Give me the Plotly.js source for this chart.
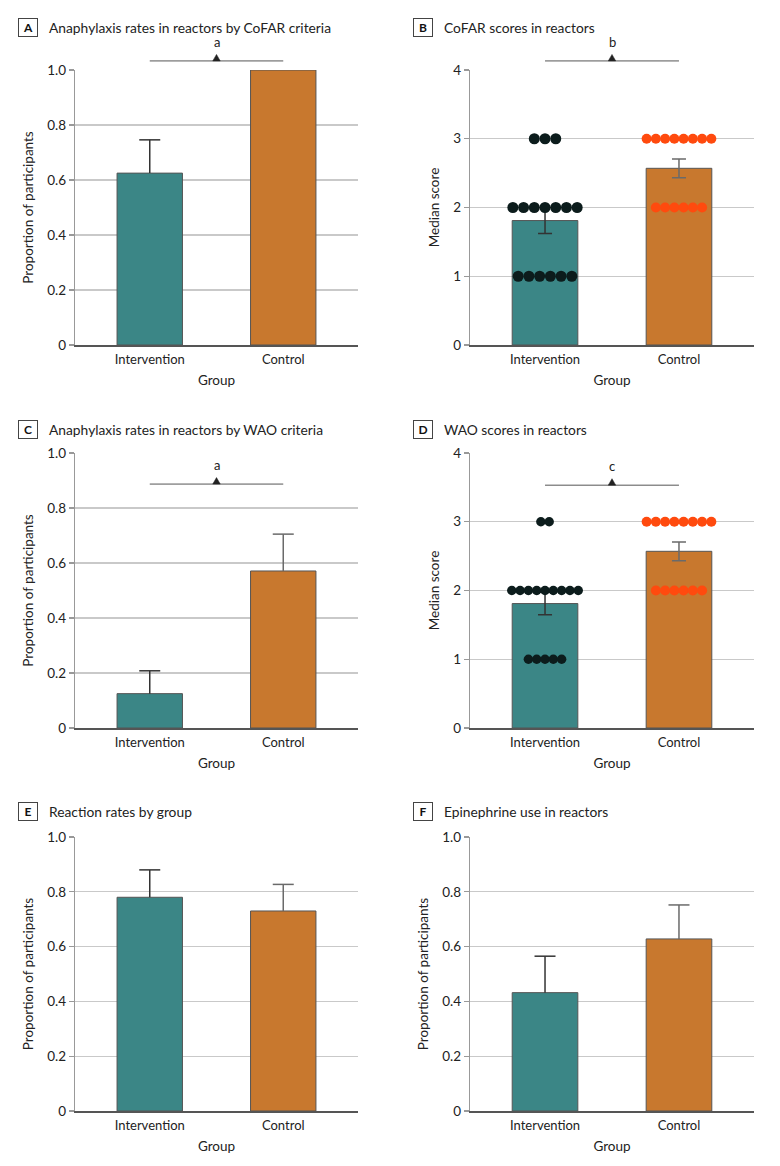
<!DOCTYPE html>
<html>
<head>
<meta charset="utf-8">
<script src="https://cdn.plot.ly/plotly-3.0.1.min.js"></script>
<style>
  html, body { margin: 0; padding: 0; background: #fff; }
  #chart { width: 780px; height: 1166px; }
</style>
</head>
<body>
<div id="chart"></div>
<script>
// ---- data ----
const groups = ['Intervention', 'Control'];
const propTickVals = [0, 0.2, 0.4, 0.6, 0.8, 1.0];
const propTickText = ['0', '0.2', '0.4', '0.6', '0.8', '1.0'];
const scoreTickVals = [0, 1, 2, 3, 4];
const scoreTickText = ['0', '1', '2', '3', '4'];

// A: anaphylaxis by CoFAR criteria (proportion, upper SE)
const cofarRate = [0.625, 1.0];
const cofarRateErr = [0.121, 0];
// B: CoFAR scores (bar value, SE) and individual scores
const cofarScore = [1.81, 2.57];
const cofarScoreErr = [0.19, 0.137];
const cofarIntervention = [3, 3, 3, 2, 2, 2, 2, 2, 2, 2, 1, 1, 1, 1, 1, 1];
const cofarControl = [3, 3, 3, 3, 3, 3, 3, 3, 2, 2, 2, 2, 2, 2];
// C: anaphylaxis by WAO criteria
const waoRate = [0.125, 0.571];
const waoRateErr = [0.083, 0.134];
// D: WAO scores
const waoScore = [1.81, 2.57];
const waoScoreErr = [0.164, 0.137];
const waoIntervention = [3, 3, 2, 2, 2, 2, 2, 2, 2, 2, 2, 1, 1, 1, 1, 1];
const waoControl = [3, 3, 3, 3, 3, 3, 3, 3, 2, 2, 2, 2, 2, 2];
// E: reaction rates by group
const reactionRate = [0.78, 0.73];
const reactionRateErr = [0.10, 0.097];
// F: epinephrine use in reactors
const epiRate = [0.432, 0.628];
const epiRateErr = [0.133, 0.124];

// ---- styling ----
const W = 780, H = 1166;
const FONT = 'Lato, "Open Sans", sans-serif';
const TEAL = '#3b8686';
const ORANGE = '#c8782e';
const DOT_DARK = '#0c1c1c';
const DOT_RED = '#ff4a0e';

// plot-area rectangles in pixels
const boxes = {
  A: [75, 358, 70, 345],
  B: [470, 754, 70, 345],
  C: [75, 358, 453, 728],
  D: [470, 754, 453, 728],
  E: [75, 358, 837, 1111],
  F: [470, 754, 837, 1111]
};
const titles = {
  A: 'Anaphylaxis rates in reactors by CoFAR criteria',
  B: 'CoFAR scores in reactors',
  C: 'Anaphylaxis rates in reactors by WAO criteria',
  D: 'WAO scores in reactors',
  E: 'Reaction rates by group',
  F: 'Epinephrine use in reactors'
};

const traces = [];
const layout = {
  width: W, height: H,
  margin: {l: 0, r: 0, t: 0, b: 0},
  paper_bgcolor: '#fff', plot_bgcolor: '#fff',
  showlegend: false,
  barmode: 'overlay',
  font: {family: FONT, size: 13, color: '#222'},
  shapes: [], annotations: []
};

function px2x(px) { return px / W; }
function px2y(py) { return 1 - py / H; }

function addPanel(idx, key, vals, errs, symmetric, yMax, yTitle, tickVals, tickText) {
  const [x0, x1, y0, y1] = boxes[key];
  const xa = 'xaxis' + idx, ya = 'yaxis' + idx;
  const xr = 'x' + idx, yr = 'y' + idx;
  layout[xa] = {
    domain: [px2x(x0), px2x(x1)], anchor: yr,
    range: [-0.56, 1.56], tickvals: [0, 1], ticktext: groups,
    showgrid: false, zeroline: false, showline: true,
    linecolor: '#555', linewidth: 1.5, ticks: '',
    tickfont: {family: FONT, size: 13, color: '#222'}, ticklabelstandoff: 2,
    title: {text: 'Group', font: {family: FONT, size: 13.5, color: '#222'}, standoff: 9},
    fixedrange: true
  };
  layout[ya] = {
    domain: [px2y(y1), px2y(y0)], anchor: xr,
    range: [0, yMax], tickvals: tickVals, ticktext: tickText,
    showgrid: true, gridcolor: '#c9c9c9', gridwidth: 1.3,
    zeroline: false, showline: true, linecolor: '#999', linewidth: 1.3,
    ticks: 'outside', ticklen: 5, tickcolor: '#999', tickwidth: 1.3,
    tickfont: {family: FONT, size: 13.5, color: '#222'},
    title: {text: yTitle, font: {family: FONT, size: 13.5, color: '#222'}, standoff: 10},
    fixedrange: true
  };
  const colors = [TEAL, ORANGE];
  const errColors = ['#333', '#6a6a6a'];
  for (let i = 0; i < groups.length; i++) {
    const show = errs[i] > 0;
    const e = symmetric
      ? {type: 'data', array: [errs[i]], symmetric: true, color: errColors[i], thickness: 1.5, width: 7, visible: show}
      : {type: 'data', array: [errs[i]], arrayminus: [0], symmetric: false, color: errColors[i], thickness: 1.5, width: 0, visible: show};
    traces.push({
      type: 'bar', x: [i], y: [vals[i]], width: 0.49,
      xaxis: xr, yaxis: yr,
      marker: {color: colors[i], line: {color: '#555', width: 1}},
      error_y: e, hoverinfo: 'skip'
    });
    // one-sided error bars get their cap only at the upper end
    if (!symmetric && show) {
      traces.push({
        type: 'scatter', mode: 'markers', x: [i], y: [vals[i] + errs[i]],
        xaxis: xr, yaxis: yr, cliponaxis: false, hoverinfo: 'skip',
        marker: {symbol: 'line-ew', size: 15, line: {color: errColors[i], width: 1.5}}
      });
    }
  }
  // panel letter box + title
  const ty = px2y(y0 - (key === 'A' || key === 'B' ? 42 : key === 'C' || key === 'D' ? 24 : 26));
  layout.annotations.push({
    xref: 'paper', yref: 'paper', x: px2x(x0 - 47), y: ty,
    xanchor: 'center', yanchor: 'middle', showarrow: false,
    text: '<b>' + key + '</b>', font: {family: FONT, size: 12, color: '#111'},
    bordercolor: '#444', borderwidth: 1, borderpad: 1, width: 16, height: 15
  });
  layout.annotations.push({
    xref: 'paper', yref: 'paper', x: px2x(x0 - 28), y: ty,
    xanchor: 'left', yanchor: 'middle', showarrow: false,
    text: titles[key], font: {family: FONT, size: 13.8, color: '#222'}
  });
}

// significance bracket: horizontal line between groups, small triangle, footnote letter
function addBracket(idx, yFrac, letter) {
  const xr = 'x' + idx, yr = 'y' + idx + ' domain';
  layout.shapes.push({
    type: 'line', xref: xr, yref: yr, x0: 0, x1: 1, y0: yFrac, y1: yFrac,
    line: {color: '#555', width: 1}
  });
  const h = 6.5 / 275, hw = 0.028;
  layout.shapes.push({
    type: 'path', xref: xr, yref: yr,
    path: `M ${0.5 - hw},${yFrac} L ${0.5 + hw},${yFrac} L 0.5,${yFrac + h} Z`,
    fillcolor: '#222', line: {color: '#222', width: 0.5}
  });
  layout.annotations.push({
    xref: xr, yref: yr, x: 0.5, y: yFrac + h + 0.01,
    xanchor: 'center', yanchor: 'bottom', showarrow: false,
    text: letter, font: {family: FONT, size: 13, color: '#222'}
  });
}

// individual scores stacked side by side at each level
function addDots(idx, scores, groupIndex, color, size, spacing) {
  const counts = {};
  scores.forEach(s => { counts[s] = (counts[s] || 0) + 1; });
  const seen = {};
  const xs = [], ys = [];
  scores.forEach(s => {
    const k = counts[s];
    const i = seen[s] || 0;
    seen[s] = i + 1;
    xs.push(groupIndex + (i - (k - 1) / 2) * spacing);
    ys.push(s);
  });
  traces.push({
    type: 'scatter', mode: 'markers', x: xs, y: ys,
    xaxis: 'x' + idx, yaxis: 'y' + idx, cliponaxis: false,
    marker: {color: color, size: size, line: {width: 0}}, hoverinfo: 'skip'
  });
}

addPanel(1, 'A', cofarRate, cofarRateErr, false, 1, 'Proportion of participants', propTickVals, propTickText);
addPanel(2, 'B', cofarScore, cofarScoreErr, true, 4, 'Median score', scoreTickVals, scoreTickText);
addPanel(3, 'C', waoRate, waoRateErr, false, 1, 'Proportion of participants', propTickVals, propTickText);
addPanel(4, 'D', waoScore, waoScoreErr, true, 4, 'Median score', scoreTickVals, scoreTickText);
addPanel(5, 'E', reactionRate, reactionRateErr, false, 1, 'Proportion of participants', propTickVals, propTickText);
addPanel(6, 'F', epiRate, epiRateErr, false, 1, 'Proportion of participants', propTickVals, propTickText);

addDots(2, cofarIntervention, 0, DOT_DARK, 11, 0.080);
addDots(2, cofarControl, 1, DOT_RED, 10, 0.069);
addDots(4, waoIntervention, 0, DOT_DARK, 9.5, 0.062);
addDots(4, waoControl, 1, DOT_RED, 10, 0.069);

addBracket(1, 1.033, 'a');
addBracket(2, 1.033, 'b');
addBracket(3, 0.887, 'a');
addBracket(4, 0.883, 'c');

Plotly.newPlot('chart', traces, layout, {displayModeBar: false, staticPlot: true});
</script>
</body>
</html>
